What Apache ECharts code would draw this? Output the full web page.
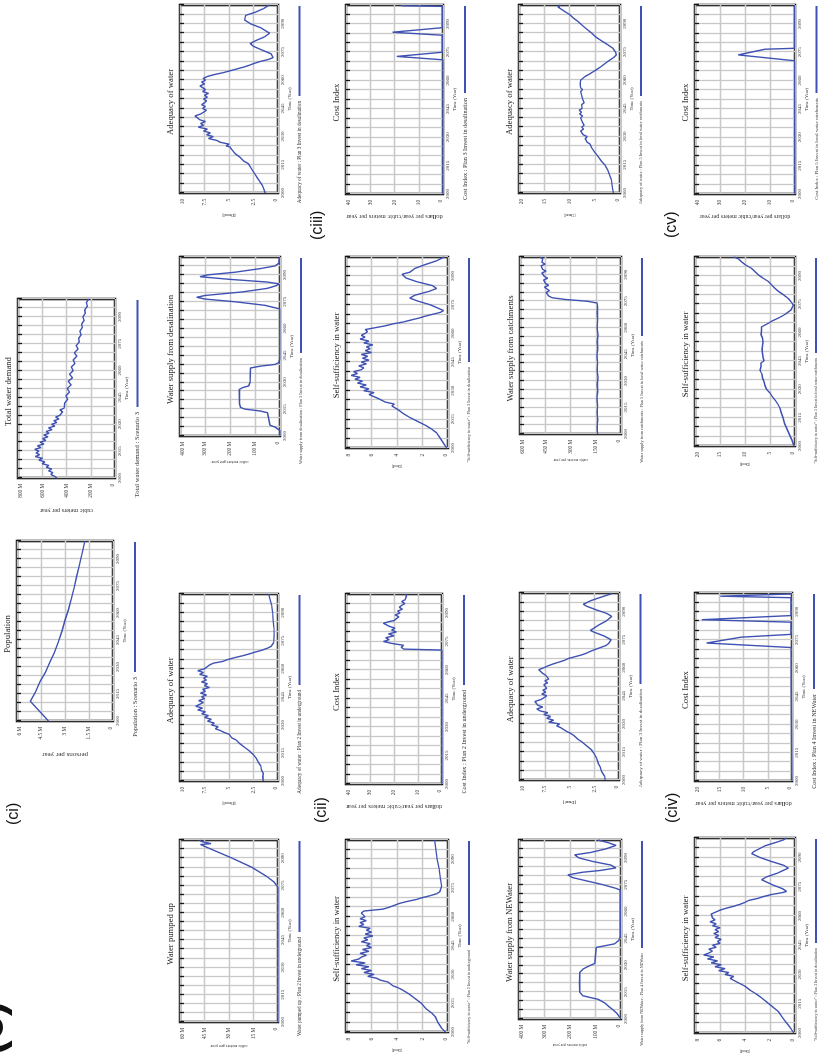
<!DOCTYPE html>
<html>
<head>
<meta charset="utf-8">
<script src="https://cdn.jsdelivr.net/npm/echarts@6/dist/echarts.min.js"></script>
<style>
  html, body { margin: 0; padding: 0; background: #fff; width: 818px; height: 1055px; overflow: hidden; }
  /* the sheet is laid out in landscape and turned a quarter turn counter-clockwise */
  #page { position: absolute; left: 0; top: 0; width: 1055px; height: 818px;
          transform-origin: 0 0; transform: translate(0, 1055px) rotate(-90deg); background: #fff; }
</style>
</head>
<body>
<div id="page"></div>
<script>
// ---------- model output, [year, value] ----------
const population = [[2000,4.03],[2011,5.17],[2016,4.85],[2022,4.55],[2027,4.23],[2033,3.93],[2038,3.67],[2044,3.41],[2050,3.19],[2056,3.0],[2062,2.78],[2068,2.6],[2074,2.43],[2080,2.28],[2086,2.12],[2092,1.96],[2100,1.76]];

const totalDemand = [[2000,480],[2001,500],[2002,530],[2003,512],[2004,548],[2005,522],[2006,568],[2007,545],[2008,600],[2009,578],[2010,628],[2011,598],[2012,658],[2013,622],[2014,650],[2015,628],[2016,662],[2017,610],[2018,640],[2019,585],[2020,618],[2021,570],[2022,598],[2023,552],[2024,588],[2025,545],[2026,568],[2027,520],[2028,548],[2029,496],[2030,524],[2031,480],[2032,505],[2033,462],[2034,490],[2035,455],[2036,470],[2037,432],[2038,455],[2039,420],[2040,405],[2042,415],[2044,390],[2046,405],[2048,375],[2050,395],[2052,362],[2054,385],[2056,350],[2058,375],[2060,345],[2062,360],[2064,330],[2066,345],[2068,315],[2070,335],[2072,305],[2074,320],[2076,295],[2078,300],[2080,280],[2082,290],[2084,270],[2086,275],[2088,255],[2090,265],[2092,245],[2094,250],[2096,228],[2098,236],[2100,218]];

const pumpedUp = [[2000,0],[2074,0],[2075,0.3],[2077,2.5],[2080,7],[2085,16],[2090,28],[2095,41],[2097.5,47.5],[2098,41],[2098.6,42],[2099.2,47],[2100,48]];

const adequacyP2 = [[2000,1.5],[2002,1.55],[2004,1.5],[2006,1.7],[2008,1.75],[2010,2.0],[2012,2.2],[2014,2.5],[2016,2.9],[2018,3.4],[2020,3.9],[2022,4.3],[2023,4.7],[2024,4.9],[2025,5.0],[2026,5.5],[2027,5.9],[2028,6.4],[2029,6.1],[2030,6.8],[2031,6.5],[2032,7.2],[2033,6.8],[2034,7.5],[2035,7.1],[2036,7.8],[2037,7.4],[2038,8.2],[2039,7.7],[2040,8.4],[2041,8.0],[2042,7.6],[2043,8.1],[2044,7.5],[2045,7.8],[2046,7.3],[2047,7.9],[2048,7.4],[2049,7.7],[2050,7.0],[2051,7.5],[2052,7.2],[2053,7.8],[2054,7.3],[2055,7.6],[2056,7.2],[2057,8.0],[2058,7.6],[2059,8.2],[2060,7.5],[2061,7.3],[2062,7.0],[2063,6.6],[2064,5.6],[2065,5.1],[2066,4.4],[2067,3.6],[2068,2.9],[2069,2.3],[2070,1.6],[2071,1.1],[2072,0.7],[2074,0.45],[2078,0.4],[2082,0.42],[2086,0.5],[2090,0.55],[2094,0.65],[2097,0.8],[2100,0.95]];

const desalSupply = [[2000,0],[2003,0],[2004,2],[2005,20],[2006,40],[2007,47],[2013,50],[2014,80],[2015,140],[2016,158],[2018,162],[2026,163],[2027,150],[2028,125],[2030,120],[2038,118],[2039,80],[2040,20],[2041,5],[2043,1],[2071,1],[2072,5],[2073,60],[2075,180],[2076.5,300],[2077.5,333],[2078.5,300],[2080.5,150],[2082.5,50],[2084,15],[2085,4],[2086,50],[2087.5,200],[2089,320],[2090,290],[2091.5,180],[2093.5,80],[2095,20],[2096.5,5],[2100,2]];

const adequacyP3 = [[2000,1.3],[2002,1.45],[2004,1.6],[2006,1.84],[2008,2.1],[2010,2.35],[2012,2.6],[2015.6,3.03],[2017,3.5],[2019,3.88],[2021,4.39],[2022,4.3],[2023,4.7],[2024.5,4.9],[2025,5.3],[2026,5.0],[2027,5.9],[2028,6.26],[2029,7.1],[2030,6.6],[2031,7.3],[2032,6.9],[2033,7.6],[2034,7.2],[2035,8.13],[2036,7.6],[2037,7.9],[2038,7.4],[2039,8.0],[2040,7.8],[2041,8.47],[2042,7.9],[2043,7.6],[2044,7.3],[2045,7.7],[2046,7.4],[2047,7.8],[2048,7.5],[2049,7.28],[2050,7.6],[2051,7.2],[2052,7.5],[2053,7.1],[2054,7.7],[2055,7.4],[2057,7.96],[2058,7.5],[2059,7.8],[2060,7.4],[2061,7.62],[2062,7.2],[2063,6.5],[2064,5.6],[2065,4.9],[2066,4.2],[2067,3.5],[2068,2.9],[2069,2.4],[2070,1.8],[2071,1.0],[2072,0.5],[2073,0.45],[2074,0.7],[2076,1.6],[2078,2.5],[2079.5,2.85],[2081,2.3],[2083,1.4],[2085,0.85],[2086,0.9],[2088,1.8],[2090,2.8],[2092,3.4],[2093,3.55],[2094.5,3.3],[2096,2.4],[2098,1.5],[2100,0.9]];

const selfSuffP2 = [[2000,0.2],[2002,0.5],[2005,0.8],[2008,1.0],[2010,1.3],[2012,1.7],[2015,2.1],[2018,2.7],[2020,3.1],[2022,3.6],[2023,3.9],[2024,4.3],[2025,4.2],[2026,4.7],[2027,5.3],[2028,5.6],[2029,6.3],[2030,5.8],[2031,6.6],[2032,6.0],[2033,6.8],[2034,6.2],[2035,7.2],[2036,6.5],[2037,7.6],[2038,7.0],[2039,6.8],[2040,6.4],[2041,6.9],[2042,6.2],[2043,6.7],[2044,6.0],[2045,6.4],[2046,6.1],[2047,6.8],[2048,6.3],[2049,6.6],[2050,5.9],[2051,6.5],[2052,6.0],[2053,6.4],[2054,6.1],[2055,7.0],[2056,6.6],[2057,6.9],[2058,6.4],[2059,6.9],[2060,6.5],[2061,6.6],[2062,6.8],[2063,6.6],[2064,5.1],[2065,4.6],[2066,4.2],[2067,3.8],[2068,3.2],[2069,2.5],[2070,2.0],[2071,1.4],[2072,0.9],[2073,0.65],[2076,0.5],[2080,0.6],[2085,0.7],[2090,0.85],[2095,0.95],[2100,1.05]];

const costP2 = [[2000,0],[2070.5,0],[2071,16],[2072,17],[2073,16],[2074,21],[2075,24.4],[2076,22],[2077,23.5],[2078,20],[2079,22.3],[2080,19],[2081,21],[2082,19.6],[2083,22],[2084,23.5],[2084.6,24.4],[2085.5,22],[2086,20],[2087,20.3],[2088,18],[2089,19.5],[2090,17.5],[2091,18.5],[2092,16.5],[2093,17.8],[2094,16.8],[2095,15.5],[2096,16.8],[2097,15.4],[2098,16],[2099,14.8],[2100,15.2]];

const selfSuffP3 = [[2000,0.1],[2002,0.3],[2004,0.5],[2006,0.7],[2008,0.9],[2010,1.3],[2012,1.8],[2014,2.4],[2016,3.0],[2018,3.5],[2020,3.9],[2022,4.4],[2023,4.2],[2024,4.9],[2025,4.8],[2026,5.5],[2027,5.6],[2028,6.2],[2029,5.8],[2030,6.6],[2031,6.2],[2032,6.9],[2033,6.4],[2034,7.1],[2035,6.7],[2036,7.3],[2037,6.9],[2038,7.6],[2039,7.1],[2040,7.4],[2041,6.8],[2042,6.6],[2043,7.0],[2044,6.4],[2045,6.8],[2046,6.2],[2047,6.7],[2048,6.3],[2049,6.8],[2050,6.0],[2051,6.5],[2052,6.1],[2053,6.4],[2054,5.9],[2055,6.6],[2056,6.2],[2057,6.9],[2058,6.5],[2059,6.8],[2060,6.5],[2061,6.3],[2062,6.5],[2063,5.7],[2064,4.9],[2065,4.3],[2066,3.5],[2067,2.9],[2068,2.3],[2069,1.8],[2070,1.2],[2071,0.6],[2072,0.35],[2073,0.5],[2075,1.4],[2077,2.4],[2078.5,3.0],[2080,2.6],[2082,1.5],[2083.5,0.9],[2085,1.2],[2087,2.4],[2089,3.3],[2091,3.6],[2092,3.0],[2094,2.6],[2096,1.8],[2098,0.9],[2100,0.3]];

const costP3 = [[2000,0],[2071,0],[2072.8,19],[2075,0.3],[2084,0.3],[2085.6,20.8],[2088,0.3],[2099.3,0.3],[2099.6,17],[2100,17]];

const newaterSupply = [[2000,0],[2001,3],[2003,15],[2005,30],[2007,48],[2009,64],[2011,90],[2012,120],[2013,150],[2015,162],[2020,163],[2026,162],[2027,155],[2028,148],[2029,142],[2030,120],[2031,103],[2032,98],[2040,97],[2041,60],[2042,25],[2044,8],[2046,3],[2072,3],[2073,20],[2075,70],[2077,130],[2079,190],[2080.5,208],[2082,150],[2083,80],[2084.4,20],[2086,40],[2088,110],[2090,165],[2091.7,182],[2093,120],[2095,60],[2097,20],[2098.5,50],[2100,90]];

const adequacyP4 = [[2000,1.4],[2002,1.45],[2004.5,1.75],[2007,1.9],[2009,2.1],[2011.6,2.26],[2014,2.5],[2016,2.76],[2018,3.2],[2020.5,3.77],[2022,4.2],[2023,4.1],[2024,4.6],[2025,4.9],[2026,5.3],[2027,5.1],[2028,5.9],[2029,6.3],[2030,6.0],[2031,7.1],[2032,6.6],[2033,7.3],[2034,6.9],[2035,7.6],[2036,7.2],[2037,8.0],[2038,8.3],[2039,7.7],[2040,8.2],[2041,8.0],[2042,8.5],[2043,7.9],[2044,7.6],[2045,7.3],[2046,7.8],[2047,7.4],[2048,7.7],[2049,7.3],[2050,7.5],[2051,7.6],[2052,7.2],[2053,7.5],[2054,7.1],[2055,7.0],[2056,7.4],[2057,7.7],[2058,7.9],[2059,8.1],[2060,7.6],[2061,7.2],[2062,6.7],[2063,6.1],[2064,5.5],[2065,5.1],[2066,4.4],[2067,3.7],[2068,3.2],[2069,2.8],[2070,2.3],[2071,1.8],[2072,1.3],[2073,1.05],[2074,0.9],[2075,0.8],[2077,1.5],[2079,2.5],[2080,2.9],[2081,2.7],[2083,2.0],[2085,1.3],[2087.5,0.74],[2089,1.2],[2091,2.3],[2093,3.3],[2094,3.6],[2095,3.4],[2096,2.8],[2098,1.7],[2099.5,0.8],[2100,0.74]];

const catchmentSupply = [[2000,140],[2004,142],[2008,138],[2012,142],[2016,139],[2020,143],[2024,138],[2028,141],[2032,137],[2036,142],[2040,139],[2044,143],[2048,138],[2052,141],[2056,137],[2060,142],[2064,139],[2068,141],[2072,140],[2074,142],[2075,200],[2076,330],[2077,410],[2078,430],[2080,445],[2081,425],[2082,440],[2083,455],[2084,430],[2085,448],[2086,440],[2087,460],[2088,435],[2089,455],[2090,450],[2091,470],[2092,445],[2093,465],[2094,455],[2095,475],[2096,450],[2097,470],[2098,480],[2099,465],[2100,485]];

const adequacyP5 = [[2000,1.3],[2003,1.5],[2007,1.7],[2012,2.4],[2015,3.0],[2017,3.7],[2020,4.5],[2022,5.1],[2024,5.6],[2026,5.9],[2027,6.5],[2028,6.2],[2029,6.9],[2030,6.5],[2031,7.3],[2032,7.0],[2033,7.8],[2034,7.2],[2035,7.6],[2036,7.1],[2037,7.0],[2038,7.5],[2039,7.2],[2040,7.8],[2041,7.4],[2042,8.0],[2043,7.6],[2044,8.1],[2045,7.5],[2046,7.3],[2047,7.6],[2048,7.1],[2049,7.0],[2050,7.4],[2051,7.2],[2052,7.6],[2053,7.3],[2054,7.8],[2055,7.4],[2056,7.8],[2057,7.5],[2058,7.9],[2059,7.6],[2060,7.8],[2061,7.5],[2062,6.9],[2063,6.2],[2064,5.6],[2065,5.0],[2067,3.9],[2069,2.9],[2070,2.4],[2072,1.3],[2073.4,0.73],[2075,0.9],[2077,1.4],[2079,2.5],[2081,3.7],[2083,4.8],[2085,5.6],[2087,6.5],[2089,7.4],[2091,8.2],[2093,9.2],[2095,10.0],[2097,11.2],[2099,12.3],[2100,11.8]];

const selfSuffP4 = [[2000,0.1],[2002,0.3],[2004,0.53],[2007,0.9],[2011,1.33],[2014,1.9],[2018,2.67],[2020,3.1],[2022,3.6],[2023,3.5],[2024,4.0],[2025,4.3],[2026,4.2],[2027,4.9],[2028,5.2],[2029,4.9],[2030,5.6],[2031,5.3],[2032,6.1],[2033,5.6],[2034,6.4],[2035,5.9],[2036,6.7],[2037,6.2],[2038,7.0],[2039,6.5],[2040,7.3],[2041,6.9],[2042,6.6],[2043,6.9],[2044,6.3],[2045,6.6],[2046,6.0],[2047,6.2],[2048,5.9],[2049,6.4],[2050,6.1],[2051,6.5],[2052,6.1],[2053,6.4],[2054,6.0],[2055,6.6],[2056,6.3],[2057,6.8],[2058,6.4],[2059,6.6],[2060,6.5],[2061,6.7],[2062,6.6],[2063,6.0],[2064,5.5],[2065,4.9],[2066,4.4],[2067,4.0],[2068,3.7],[2069,3.0],[2070,2.5],[2071,1.9],[2072,1.0],[2072.6,0.67],[2074,1.0],[2076,1.8],[2078.6,2.67],[2080,2.3],[2082,1.4],[2084.6,0.53],[2086,0.9],[2088,1.9],[2090,2.8],[2092,3.47],[2093,3.3],[2094,3.2],[2096,2.4],[2098,1.4],[2099,0.93],[2100,0.7]];

const costP4 = [[2000,0],[2071,0.2],[2073.4,17.6],[2076.5,10.5],[2077.5,10.3],[2078,0.2],[2084.5,0.2],[2085.8,18.6],[2088,0.2],[2097.5,0.2],[2098.3,14.8],[2099.2,14.6],[2099.5,0.2],[2100,0.2]];

const selfSuffP5 = [[2000,0.2],[2003,0.6],[2006,1.1],[2009,1.6],[2012,2.1],[2015,2.4],[2018,2.8],[2020,3.0],[2022,3.4],[2024,3.9],[2025,4.1],[2026,4.5],[2027,4.3],[2028,5.0],[2029,5.2],[2030,5.7],[2031,5.4],[2032,6.0],[2033,5.7],[2034,6.2],[2035,5.9],[2036,6.5],[2037,6.1],[2038,6.6],[2039,6.3],[2040,7.0],[2041,7.3],[2042,6.8],[2043,6.5],[2044,6.8],[2045,6.2],[2046,6.0],[2047,6.4],[2048,6.1],[2049,6.5],[2050,6.2],[2051,6.6],[2052,6.3],[2053,6.5],[2054,6.2],[2055,6.4],[2056,6.1],[2057,6.5],[2058,6.3],[2059,6.8],[2060,6.5],[2061,6.7],[2062,6.6],[2063,6.7],[2064,6.0],[2065,5.3],[2066,4.7],[2067,3.9],[2068,3.1],[2069,2.4],[2070,1.8],[2071,1.3],[2072,0.8],[2073,0.5],[2074.6,0.33],[2076,0.7],[2078,1.33],[2080,2.3],[2082,3.4],[2083.4,4.0],[2085,4.6],[2087,5.3],[2089,6.5],[2090.5,7.3],[2092,7.9],[2094,8.7],[2096,10.0],[2097.5,10.7],[2099,11.3],[2100,12.2]];

const costP5 = [[2000,0],[2070.5,0.2],[2073.6,22.7],[2076.6,12],[2077.1,0.2],[2100,0.2]];

// ---------- axis tick labels ----------
const yearTicks = [2000, 2015, 2030, 2045, 2060, 2075, 2090];
const yearMin = 2000, yearMax = 2100, yearStep = 5;

// ---------- sheet layout (landscape page units) ----------
const SERIF = '"Liberation Serif","Times New Roman",serif';
const SANS = '"Liberation Sans",Arial,sans-serif';
const BLUE = '#3f52b3';
const GRIDLINE = '#c8c8c8';

const mFmt = v => v === 0 ? '0' : v + ' M';
const plainFmt = v => String(v);

const panels = [
  { title: 'Population', box: [334, 17, 514, 113], max: 6, fmt: mFmt, yName: 'persons per year', yNameSize: 7, nameGap: 30,
    legend: 'Population : Scenario 3', legendSize: 6.4, lineLen: 130, data: population },
  { title: 'Total water demand', box: [577, 18, 756, 115], max: 800, fmt: mFmt, yName: 'cubic meters per year', yNameSize: 6.2, nameGap: 30,
    legend: 'Total water demand : Scenario 3', legendSize: 6.6, lineLen: 107, data: totalDemand },
  { title: 'Water pumped up', box: [33, 180, 215, 278], max: 60, fmt: mFmt, yName: 'cubic meters per year', yNameSize: 4.3, nameGap: 22,
    legend: 'Water pumped up : Plan 2 Invest in underground', legendSize: 5.1, lineLen: 91, data: pumpedUp },
  { title: 'Adequacy of water', box: [274, 180, 461, 278], max: 10, fmt: plainFmt, yName: '[Dmnl]', yNameSize: 4.4, nameGap: 20,
    legend: 'Adequacy of water : Plan 2 Invest in underground', legendSize: 5.2, lineLen: 90, data: adequacyP2 },
  { title: 'Water supply from desalination', box: [619, 180, 798, 280], max: 400, fmt: mFmt, yName: 'cubic meters per year', yNameSize: 4.3, nameGap: 24,
    legend: 'Water supply from desalination : Plan 3 Invest in desalination', legendSize: 4.3, lineLen: 95, data: desalSupply },
  { title: 'Adequacy of water', box: [862, 180, 1050, 278], max: 10, fmt: plainFmt, yName: '[Dmnl]', yNameSize: 4.4, nameGap: 20,
    legend: 'Adequacy of water : Plan 3 Invest in desalination', legendSize: 5.2, lineLen: 90, data: adequacyP3 },
  { title: 'Self-sufficiency in water', box: [23, 346, 215, 448], max: 8, fmt: plainFmt, yName: '[Dmnl]', yNameSize: 3.6, nameGap: 16,
    legend: '"Self-sufficiency in water" : Plan 2 Invest in underground', legendSize: 4.1, lineLen: 104, data: selfSuffP2 },
  { title: 'Cost Index', box: [271, 346, 461, 442], max: 40, fmt: plainFmt, yName: 'dollars per year/cubic meters per year', yNameSize: 6.4, nameGap: 20,
    legend: 'Cost Index : Plan 2 Invest in underground', legendSize: 6.2, lineLen: 90, data: costP2 },
  { title: 'Self-sufficiency in water', box: [607, 346, 798, 448], max: 8, fmt: plainFmt, yName: '[Dmnl]', yNameSize: 3.6, nameGap: 16,
    legend: '"Self-sufficiency in water" : Plan 3 Invest in desalination', legendSize: 4.2, lineLen: 104, data: selfSuffP3 },
  { title: 'Cost Index', box: [861, 346, 1050, 443], max: 40, fmt: plainFmt, yName: 'dollars per year/cubic meters per year', yNameSize: 6.4, nameGap: 20,
    legend: 'Cost Index : Plan 3 Invest in desalination', legendSize: 6.2, lineLen: 87, data: costP3 },
  { title: 'Water supply from NEWater', box: [36, 519, 215, 621], max: 400, fmt: mFmt, yName: 'cubic meters per year', yNameSize: 4.0, nameGap: 24,
    legend: 'Water supply from NEWater : Plan 4 Invest in NEWater', legendSize: 4.15, lineLen: 107, data: newaterSupply },
  { title: 'Adequacy of water', box: [275, 520, 462, 619], max: 10, fmt: plainFmt, yName: '[Dmnl]', yNameSize: 4.4, nameGap: 20,
    legend: 'Adequacy of water : Plan 3 Invest in desalination', legendSize: 5.0, lineLen: 90, data: adequacyP4 },
  { title: 'Water supply from catchments', box: [621, 520, 798, 621], max: 600, fmt: mFmt, yName: 'cubic meters per year', yNameSize: 4.0, nameGap: 24,
    legend: 'Water supply from catchments : Plan 5 Invest in local water catchments', legendSize: 4.25, lineLen: 78, data: catchmentSupply },
  { title: 'Adequacy of water', box: [862, 519, 1050, 620], max: 20, fmt: plainFmt, yName: '[Dmnl]', yNameSize: 4.0, nameGap: 20,
    legend: 'Adequacy of water : Plan 5 Invest in local water catchments', legendSize: 4.3, lineLen: 90, data: adequacyP5 },
  { title: 'Self-sufficiency in water', box: [22, 695, 217, 795], max: 8, fmt: plainFmt, yName: '[Dmnl]', yNameSize: 3.6, nameGap: 16,
    legend: '"Self-sufficiency in water" : Plan 3 Invest in desalination', legendSize: 4.1, lineLen: 104, data: selfSuffP4 },
  { title: 'Cost Index', box: [274, 695, 462, 792], max: 20, fmt: plainFmt, yName: 'dollars per year/cubic meters per year', yNameSize: 6.4, nameGap: 20,
    legend: 'Cost Index : Plan 4 Invest in NEWater', legendSize: 6.2, lineLen: 95, data: costP4 },
  { title: 'Self-sufficiency in water', box: [609, 695, 798, 795], max: 20, fmt: plainFmt, yName: '[Dmnl]', yNameSize: 3.6, nameGap: 16,
    legend: '"Self-sufficiency in water" : Plan 5 Invest in local water catchments', legendSize: 3.9, lineLen: 95, data: selfSuffP5 },
  { title: 'Cost Index', box: [861, 695, 1050, 795], max: 40, fmt: plainFmt, yName: 'dollars per year/cubic meters per year', yNameSize: 6.0, nameGap: 20,
    legend: 'Cost Index : Plan 5 Invest in local water catchments', legendSize: 4.9, lineLen: 87, data: costP5 }
];

// section tags on the sheet
const tags = [
  { text: '(ci)', x: 230, y: 14 },
  { text: '(cii)', x: 232, y: 322 },
  { text: '(ciii)', x: 815, y: 318 },
  { text: '(civ)', x: 232, y: 673 },
  { text: '(cv)', x: 817, y: 672 }
];

const PAGE_W = 1055;
const chart = echarts.init(document.getElementById('page'), null, { renderer: 'canvas' });

const option = {
  animation: false,
  backgroundColor: '#fff',
  grid: [], xAxis: [], yAxis: [], series: [], legend: [], graphic: []
};

panels.forEach((p, i) => {
  const [x1, y1, x2, y2] = p.box;
  option.grid.push({
    left: x1, top: y1, width: x2 - x1, height: y2 - y1,
    show: true, backgroundColor: '#fff', borderColor: '#141414', borderWidth: 2.6
  });
  // bottom time axis: labels, gridlines, name
  option.xAxis.push({
    gridIndex: i, type: 'value', min: yearMin, max: yearMax, interval: yearStep,
    axisLine: { show: false }, axisTick: { show: false },
    splitLine: { show: true, lineStyle: { color: GRIDLINE, width: 1.3 } },
    axisLabel: {
      margin: 2, fontSize: 5, fontFamily: SERIF, color: '#333',
      formatter: v => yearTicks.includes(v) ? String(v) : ''
    },
    name: 'Time (Year)', nameLocation: 'middle', nameGap: 9.5,
    nameTextStyle: { fontSize: 4.8, fontFamily: SERIF, color: '#333' }
  });
  // top time axis: inward tick marks only
  option.xAxis.push({
    gridIndex: i, type: 'value', position: 'top', min: yearMin, max: yearMax, interval: yearStep,
    axisLine: { show: false }, splitLine: { show: false }, axisLabel: { show: false },
    axisTick: { show: true, inside: true, length: 4, lineStyle: { color: '#141414', width: 1.3 } }
  });
  option.yAxis.push({
    gridIndex: i, type: 'value', min: 0, max: p.max, interval: p.max / 4,
    axisLine: { show: false }, axisTick: { show: false },
    splitLine: { show: true, lineStyle: { color: GRIDLINE, width: 1.3 } },
    axisLabel: {
      margin: 6, fontSize: 5.2, fontFamily: SERIF, color: '#333', formatter: p.fmt,
      verticalAlignMaxLabel: 'top', verticalAlignMinLabel: 'bottom'
    },
    name: p.yName, nameLocation: 'middle', nameGap: p.nameGap,
    nameTextStyle: { fontSize: p.yNameSize, fontFamily: SERIF, color: '#333' }
  });
  option.series.push({
    type: 'line', name: p.legend, xAxisIndex: 2 * i, yAxisIndex: i,
    data: p.data, showSymbol: false, clip: true,
    lineStyle: { color: BLUE, width: 1.4 }, itemStyle: { color: BLUE }
  });
  option.legend.push({
    data: [p.legend], right: PAGE_W - x2 + 1, top: y2 + 19,
    orient: 'horizontal', align: 'right', padding: 0, itemGap: 0,
    icon: 'rect', itemWidth: p.lineLen, itemHeight: 1.8, selectedMode: false,
    textStyle: { fontSize: p.legendSize, fontFamily: SERIF, color: '#333' }
  });
  option.graphic.push({
    type: 'text', x: (x1 + x2) / 2 - 3, y: y1 - 9,
    style: { text: p.title, fill: '#1e1e1e', fontSize: 8.7, fontFamily: SERIF,
             align: 'center', verticalAlign: 'middle', textAlign: 'center', textVerticalAlign: 'middle' }
  });
});

tags.forEach(t => {
  option.graphic.push({
    type: 'text', x: t.x, y: t.y,
    style: { text: t.text, fill: '#111', fontSize: 16, fontFamily: SANS,
             align: 'left', verticalAlign: 'middle', textAlign: 'left', textVerticalAlign: 'middle' }
  });
});
// figure letter, partly cut by the sheet edge
option.graphic.push({
  type: 'text', x: 0, y: 13,
  style: { text: '(c)', fill: '#111', fontSize: 44, fontWeight: 'bold', fontFamily: SANS,
           align: 'left', verticalAlign: 'bottom', textAlign: 'left', textVerticalAlign: 'bottom' }
});

chart.setOption(option);
</script>
</body>
</html>
